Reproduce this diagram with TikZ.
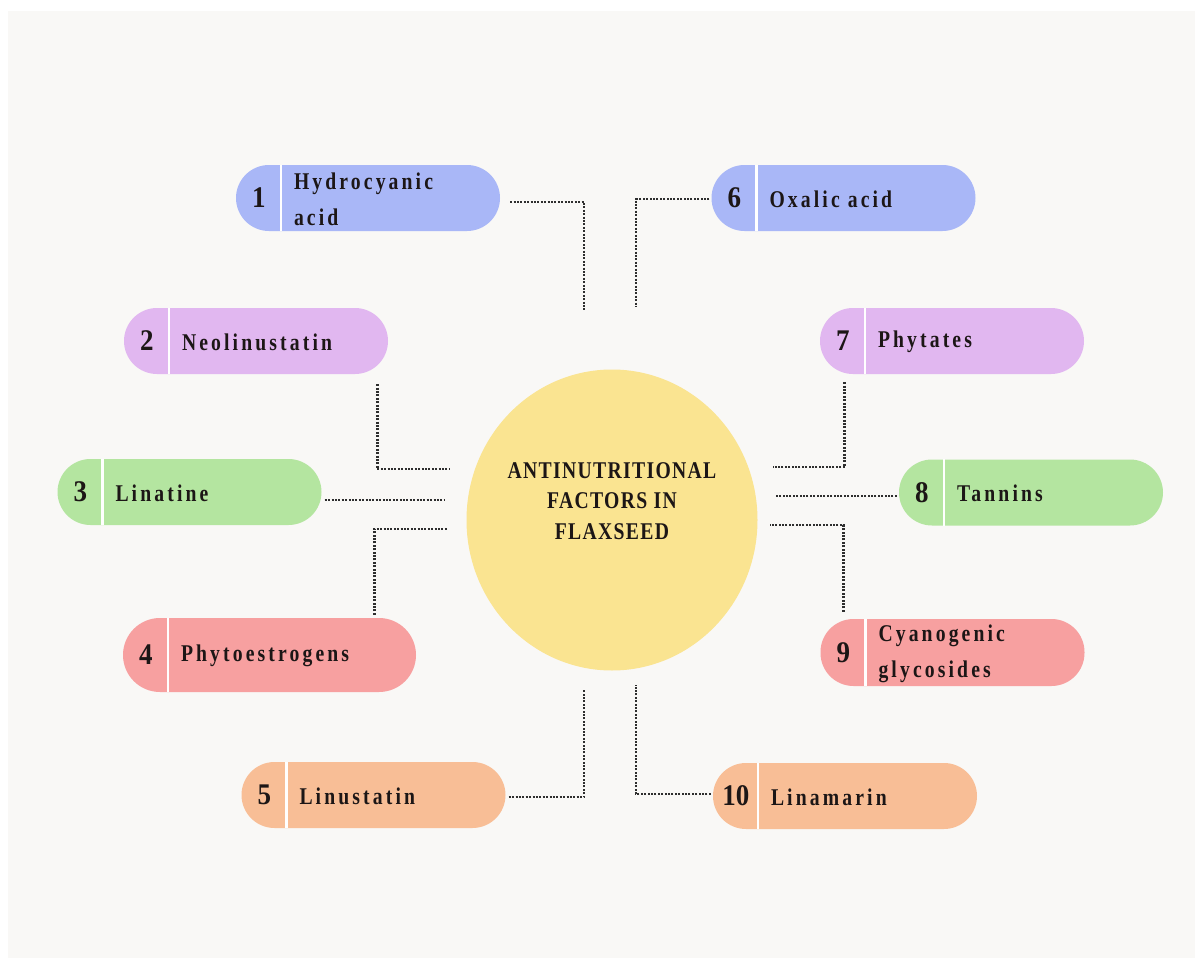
\documentclass[tikz,border=0pt]{standalone}
\usepackage{fontspec}
\usetikzlibrary{shapes.geometric}
\setmainfont{Liberation Serif}
\newfontfamily\itemfont[LetterSpace=13,FakeStretch=0.82]{Liberation Serif}
\newfontfamily\hubfont[LetterSpace=5.5,FakeStretch=0.82]{Liberation Serif}
\newfontfamily\numfont[FakeStretch=0.9]{Liberation Serif}

\definecolor{panelgray}{RGB}{249,248,246}
\definecolor{blueA}{RGB}{169,183,247}
\definecolor{lilacA}{RGB}{225,183,240}
\definecolor{greenA}{RGB}{180,229,160}
\definecolor{pinkA}{RGB}{247,160,160}
\definecolor{peachA}{RGB}{248,190,150}
\definecolor{hubyellow}{RGB}{250,228,145}
\definecolor{inkdark}{RGB}{28,22,22}

% one factor capsule: name, centre, colour, extra style, number, label
\newcommand\factoritem[6]{%
  \node[pill=#3,#4] (#1) at (#2) {};
  \draw[divider] ([xshift=45pt]#1.north west) -- ([xshift=45pt]#1.south west);
  \node[numtext] (#1n) at ([xshift=23pt]#1.west) {#5};
  \node[itemtext] (#1t) at ([xshift=58pt,yshift=-1pt]#1.west) {#6};
}

\begin{document}
\begin{tikzpicture}[x=1pt,y=-1pt,
  pill/.style={rectangle, rounded corners=33pt, minimum width=264pt,
    minimum height=66pt, inner sep=0pt, fill=#1},
  divider/.style={draw=white, line width=2.5pt},
  numtext/.style={inner sep=0pt, text=inkdark,
    font=\numfont\fontsize{30}{32}\selectfont\bfseries},
  itemtext/.style={anchor=west, inner sep=0pt, align=left, text=inkdark,
    font=\itemfont\fontsize{24}{36}\selectfont\bfseries},
  conn/.style={draw=black!82, line width=2.8pt, dash pattern=on 2pt off 1.4pt}]

\useasboundingbox (0,0) rectangle (1195,958);
\fill[white] (0,0) rectangle (1195,958);
\fill[panelgray] (8,11) rectangle (1195,958);

% central hub
\node[ellipse, fill=hubyellow, minimum width=291pt, minimum height=301pt,
  inner sep=0pt] (hub) at (612,520) {};
\node[align=center, inner sep=0pt, text=inkdark,
  font=\hubfont\fontsize{24}{30.5}\selectfont\bfseries] (hubtext) at (612,501)
  {ANTINUTRITIONAL\\FACTORS IN\\FLAXSEED};

% capsules
\factoritem{p1}{368,198}{blueA}{}{1}{Hydrocyanic\\acid}
\factoritem{p6}{843.5,198}{blueA}{}{6}{Oxalic acid}
\factoritem{p2}{256,341}{lilacA}{}{2}{Neolinustatin}
\factoritem{p7}{952,341}{lilacA}{}{7}{Phytates}
\factoritem{p3}{189.5,492}{greenA}{}{3}{Linatine}
\factoritem{p8}{1031,492.5}{greenA}{}{8}{Tannins}
\factoritem{p4}{269.5,655}{pinkA}{minimum width=293pt, minimum height=74pt, rounded corners=37pt}{4}{Phytoestrogens}
\factoritem{p9}{952.5,652.5}{pinkA}{minimum height=67pt}{9}{Cyanogenic\\glycosides}
\factoritem{p5}{373.5,795}{peachA}{}{5}{Linustatin}
\factoritem{p10}{845,796}{peachA}{}{10}{Linamarin}

% connector ends next to the hub
\coordinate (e1) at (584,310);
\coordinate (e6) at (636,306);
\coordinate (e2) at (449,469);
\coordinate (e7) at (773,467);
\coordinate (e3) at (445,500);
\coordinate (e8) at (775,496);
\coordinate (e4) at (447,529);
\coordinate (e9) at (770,525);
\coordinate (e5) at (584,689);
\coordinate (e10) at (636,685);

% dotted connectors
\draw[conn] ([xshift=10pt,yshift=-4pt]p1.east) -| (e1);
\draw[conn] ([xshift=-2pt,yshift=-1pt]p6.west) -| (e6);
\draw[conn] ([xshift=-11pt,yshift=-10pt]p2.south east) |- (e2);
\draw[conn] ([xshift=25pt,yshift=-8pt]p7.south west) |- (e7);
\draw[conn] ([xshift=3pt,yshift=-8pt]p3.east) -- (e3);
\draw[conn] ([xshift=-2pt,yshift=-3.5pt]p8.west) -- (e8);
\draw[conn] ([xshift=-42pt,yshift=3pt]p4.north east) |- (e4);
\draw[conn] ([xshift=23pt,yshift=7pt]p9.north west) |- (e9);
\draw[conn] ([xshift=3pt,yshift=-2pt]p5.east) -| (e5);
\draw[conn] ([xshift=-2pt,yshift=2pt]p10.west) -| (e10);

\end{tikzpicture}
\end{document}
